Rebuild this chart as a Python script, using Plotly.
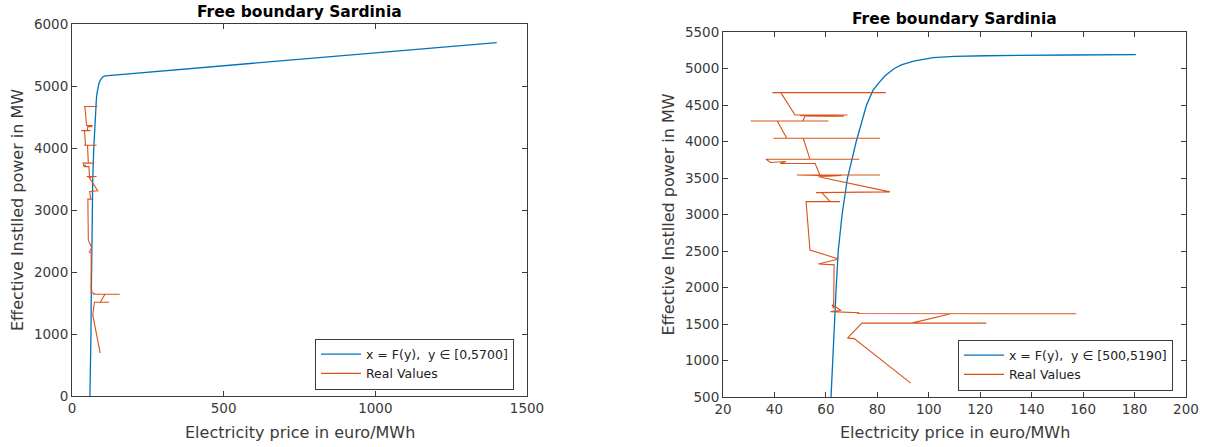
import plotly.graph_objects as go

# ---------------- data ----------------
# Real values: (price in euro/MWh, power in MW) path
real_price = [93.0, 71.0, 68.4, 74.0, 122.4, 93.7, 108.6, 157.3, 72.1, 73.0, 61.8, 65.9, 62.4,
              63.0, 63.2, 57.1, 64.9, 53.8, 52.3, 65.5, 61.6, 58.4, 56.2, 84.9, 57.1, 66.0,
              61.0, 48.7, 81.0, 57.7, 55.8, 42.2, 44.5, 38.5, 36.7, 73.0, 53.8, 51.2, 81.0,
              39.6, 44.8, 41.1, 30.8, 61.0, 51.0, 51.9, 67.0, 50.0, 68.4, 48.0, 42.5, 39.2, 83.3]
real_power = [690, 1300, 1307, 1512, 1512, 1515, 1640, 1640, 1643, 1655, 1670, 1685, 1763,
              1715, 2310, 2322, 2391, 2514, 3176, 3176, 3180, 3299, 3299, 3310, 3518, 3535,
              3530, 3541, 3541, 3541, 3699, 3699, 3725, 3712, 3756, 3756, 3756, 4044, 4044,
              4044, 4044, 4281, 4281, 4281, 4281, 4345, 4345, 4355, 4363, 4363, 4669, 4669, 4669]

# Fitted curve x = F(y), y in [500, 5190]  (right panel)
fit_r_power = [500, 1000, 1500, 2000, 2500, 3000, 3500, 4000, 4500, 4700, 4800, 4900,
               5000, 5050, 5100, 5150, 5165, 5175, 5185, 5190]
fit_r_price = [62.0, 62.6, 63.3, 64.0, 64.8, 66.3, 68.4, 71.8, 75.8, 78.3, 80.5, 83.0,
               86.6, 89.3, 94.1, 101.7, 110.0, 122.0, 155.0, 180.5]

# Fitted curve x = F(y), y in [0, 5700]  (left panel)
fit_l_power = [0, 500, 1000, 1500, 2000, 2500, 3000, 3500, 4000, 4500, 4700, 4800, 4900,
               5000, 5050, 5100, 5150, 5165, 5300, 5400, 5500, 5600, 5700]
fit_l_price = [59.0, 62.0, 62.6, 63.3, 64.0, 64.8, 66.3, 68.4, 71.8, 75.8, 78.3, 80.5, 83.0,
               86.6, 89.3, 94.1, 101.7, 110.0, 436.0, 677.0, 918.0, 1159.0, 1400.0]

left_xticks = [0, 500, 1000, 1500]
left_yticks = [0, 1000, 2000, 3000, 4000, 5000, 6000]
right_xticks = list(range(20, 201, 20))
right_yticks = list(range(500, 5501, 500))

title_text = "Free boundary Sardinia"
xlabel = "Electricity price in euro/MWh"
ylabel = "Effective Instlled power in MW"
nb = "\u00a0"
leg_left = "x = F(y)," + nb + nb + "y \u2208 [0,5700]"
leg_right = "x = F(y)," + nb + nb + "y \u2208 [500,5190]"
real_name = "Real Values"

BLUE = "#0072BD"
ORANGE = "#D95319"
AX = "#3a3a3a"
W, H = 1205, 447

# ---------------- layout geometry (page pixels) ----------------
L = dict(x0=72, x1=527, y0=24, y1=396)
R = dict(x0=723, x1=1186, y0=32, y1=397)


def fx(px):
    return px / W


def fy(py):
    return 1 - py / H


def dom_x(p):
    return [fx(p["x0"]), fx(p["x1"])]


def dom_y(p):
    return [fy(p["y1"]), fy(p["y0"])]


fig = go.Figure()
fig.add_trace(go.Scatter(x=fit_l_price, y=fit_l_power, mode="lines", name=leg_left,
                         line=dict(color=BLUE, width=1.3), xaxis="x", yaxis="y", legend="legend"))
fig.add_trace(go.Scatter(x=real_price, y=real_power, mode="lines", name=real_name,
                         line=dict(color=ORANGE, width=1.1), xaxis="x", yaxis="y", legend="legend"))
fig.add_trace(go.Scatter(x=fit_r_price, y=fit_r_power, mode="lines", name=leg_right,
                         line=dict(color=BLUE, width=1.3), xaxis="x2", yaxis="y2", legend="legend2"))
fig.add_trace(go.Scatter(x=real_price, y=real_power, mode="lines", name=real_name,
                         line=dict(color=ORANGE, width=1.1), xaxis="x2", yaxis="y2", legend="legend2"))

tickfont = dict(family="DejaVu Sans", size=13.5, color=AX)
common = dict(ticks="inside", ticklen=5, tickcolor=AX, showline=True, linecolor=AX, linewidth=1,
              mirror="ticks", showgrid=False, zeroline=False, tickfont=tickfont, automargin=False)

legend_common = dict(bgcolor="white", bordercolor=AX, borderwidth=1,
                     font=dict(family="DejaVu Sans", size=12.5, color="#222"),
                     xanchor="right", yanchor="middle", itemwidth=40, tracegroupgap=0)

fig.update_layout(
    width=W, height=H, margin=dict(l=0, r=0, t=0, b=0, autoexpand=False),
    paper_bgcolor="white", plot_bgcolor="white",
    xaxis=dict(domain=dom_x(L), range=[0, 1500], tickvals=left_xticks, anchor="y", **common),
    yaxis=dict(domain=dom_y(L), range=[0, 6000], tickvals=left_yticks, anchor="x", **common),
    xaxis2=dict(domain=dom_x(R), range=[20, 200], tickvals=right_xticks, anchor="y2", **common),
    yaxis2=dict(domain=dom_y(R), range=[500, 5500], tickvals=right_yticks, anchor="x2", **common),
    legend=dict(x=fx(514), y=fy(364), **legend_common),
    legend2=dict(x=fx(1173), y=fy(365), **legend_common),
    showlegend=True,
)

ann = []
for p, ty in ((L, 12), (R, 19)):
    cx = fx((p["x0"] + p["x1"]) / 2)
    ann.append(dict(text="<b>" + title_text + "</b>", x=cx, y=fy(ty), xref="paper", yref="paper",
                    showarrow=False, xanchor="center", yanchor="middle",
                    font=dict(family="DejaVu Sans", size=15.5, color="black")))
    ann.append(dict(text=xlabel, x=cx, y=fy(432), xref="paper", yref="paper",
                    showarrow=False, xanchor="center", yanchor="middle",
                    font=dict(family="DejaVu Sans", size=16, color=AX)))
for p, lx in ((L, 17), (R, 668)):
    cy = fy((p["y0"] + p["y1"]) / 2)
    ann.append(dict(text=ylabel, x=fx(lx), y=cy, xref="paper", yref="paper", textangle=-90,
                    showarrow=False, xanchor="center", yanchor="middle",
                    font=dict(family="DejaVu Sans", size=16, color=AX)))
fig.update_layout(annotations=ann)

# remove the default 8px page margin so the figure fills the window exactly
fig.write_html("out.html", config={"displayModeBar": False},
               post_script="document.body.style.margin='0';document.body.style.overflow='hidden';")
